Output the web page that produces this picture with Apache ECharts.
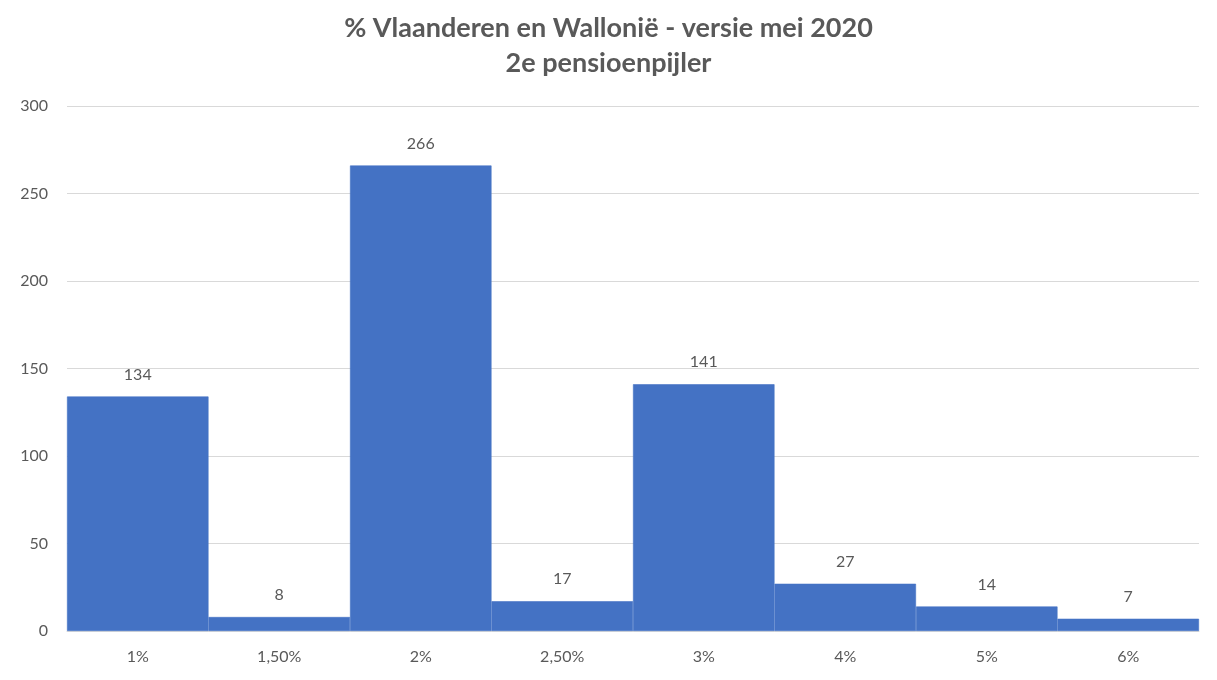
<!DOCTYPE html>
<html><head><meta charset="utf-8">
<script src="https://cdn.jsdelivr.net/npm/echarts@6/dist/echarts.min.js"></script>
<style>html,body{margin:0;padding:0;background:#fff}#c{width:1217px;height:680px}</style>
</head><body><div id="c"></div>
<script>
const categories = ['1%', '1,50%', '2%', '2,50%', '3%', '4%', '5%', '6%'];
const values = [134, 8, 266, 17, 141, 27, 14, 7];
const titleLines = ['% Vlaanderen en Wallonië - versie mei 2020', '2e pensioenpijler'];

const chart = echarts.init(document.getElementById('c'));
chart.setOption({
  backgroundColor: '#ffffff',
  animation: false,
  title: {
    text: titleLines.join('\n'),
    left: 'center',
    top: 6,
    textStyle: { fontFamily: 'Lato', fontSize: 27, fontWeight: 'bold', color: '#595959', lineHeight: 35 }
  },
  grid: { left: 67, right: 18, top: 106, bottom: 49, containLabel: false },
  xAxis: {
    type: 'category',
    data: categories,
    axisLine: { show: true, lineStyle: { color: '#d9d9d9' } },
    axisTick: { show: false },
    axisLabel: { color: '#595959', fontSize: 16, fontFamily: 'Lato', margin: 18 }
  },
  yAxis: {
    type: 'value',
    min: 0, max: 300, interval: 50,
    axisLine: { show: false },
    axisTick: { show: false },
    splitLine: { lineStyle: { color: '#d9d9d9' } },
    axisLabel: { color: '#595959', fontSize: 16, fontFamily: 'Lato', margin: 19 }
  },
  series: [{
    type: 'bar',
    data: values,
    barCategoryGap: '0%',
    itemStyle: { color: '#4472C4', borderColor: '#4472C4', borderWidth: 0.6 },
    label: { show: true, position: 'top', distance: 14, color: '#595959', fontSize: 16, fontFamily: 'Lato' }
  }]
});
</script></body></html>
